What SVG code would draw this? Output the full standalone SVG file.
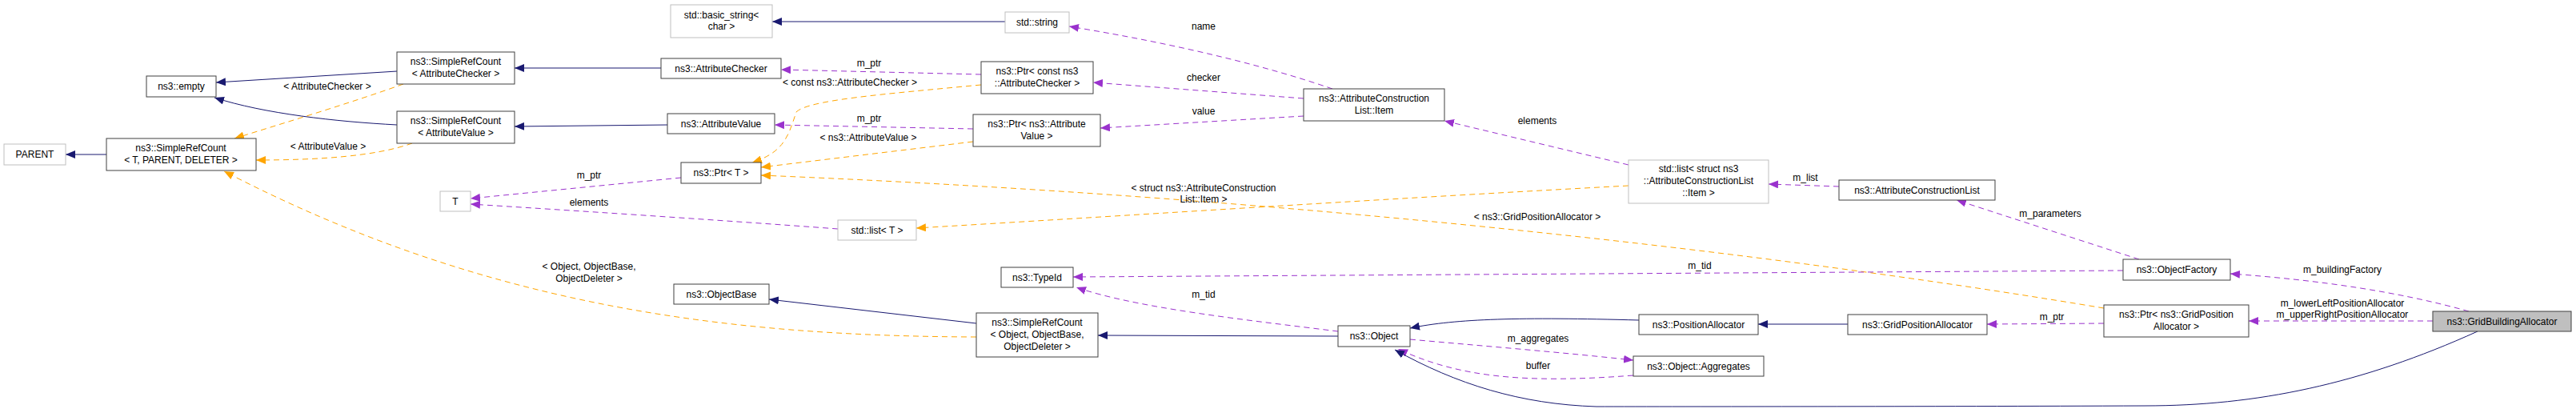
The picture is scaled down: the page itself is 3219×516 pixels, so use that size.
<svg xmlns="http://www.w3.org/2000/svg" width="3219" height="516" viewBox="0 0 3219 516">
<style>
text{font-family:"Liberation Sans",Arial,sans-serif;font-size:12px;fill:#000;text-anchor:middle}
.n rect{fill:#fff;stroke:#404040;stroke-width:1}
.g rect{fill:#fff;stroke:#bfbfbf;stroke-width:1}
.s{fill:none;stroke:#191970;stroke-width:1;marker-end:url(#an)}
.p{fill:none;stroke:#9a32cd;stroke-width:1;stroke-dasharray:7,5;marker-end:url(#ap)}
.o{fill:none;stroke:#ffa500;stroke-width:1;stroke-dasharray:7,5;marker-end:url(#ao)}
</style>
<defs>
<marker id="an" markerWidth="12" markerHeight="10" refX="12" refY="5" orient="auto" markerUnits="userSpaceOnUse"><path d="M0,0L12,5L0,10z" fill="#191970"/></marker>
<marker id="ap" markerWidth="12" markerHeight="10" refX="12" refY="5" orient="auto" markerUnits="userSpaceOnUse"><path d="M0,0L12,5L0,10z" fill="#9a32cd"/></marker>
<marker id="ao" markerWidth="12" markerHeight="10" refX="12" refY="5" orient="auto" markerUnits="userSpaceOnUse"><path d="M0,0L12,5L0,10z" fill="#ffa500"/></marker>
</defs>
<rect width="3219" height="516" fill="#fff"/>
<g id="connectors">
<path class="s" d="M133,193L82,193"/>
<path class="s" d="M496,89L270,103"/>
<path class="s" d="M496,156C420,152 330,142 268,122"/>
<path class="s" d="M826,85L643,85"/>
<path class="s" d="M834,156L643,158"/>
<path class="o" d="M504,105C440,128 360,152 293,173"/>
<path class="o" d="M515,179C470,195 400,200 320,200"/>
<path class="o" d="M1220,421C900,420 600,380 280,214"/>
<path class="s" d="M1256,27L965,27"/>
<path class="p" d="M1226,93L976,87"/>
<path class="o" d="M1226,106C1100,118 1010,125 995,140C985,170 980,190 940,203"/>
<path class="p" d="M1216,161L968,156"/>
<path class="o" d="M1216,177L951,209"/>
<path class="o" d="M2629,385C2300,330 1700,250 951,219"/>
<path class="o" d="M2035,232C1700,250 1400,270 1145,285"/>
<path class="p" d="M851,222L588,248"/>
<path class="p" d="M1047,286C900,275 700,262 588,255"/>
<path class="p" d="M1665,111C1560,75 1440,50 1336,33"/>
<path class="p" d="M1629,123L1366,103"/>
<path class="p" d="M1629,145L1375,160"/>
<path class="p" d="M2035,206L1805,151"/>
<path class="p" d="M2298,233L2210,230"/>
<path class="p" d="M2673,324L2445,250"/>
<path class="p" d="M2653,338L1341,346"/>
<path class="p" d="M1672,414C1560,400 1420,385 1345,359"/>
<path class="s" d="M1672,420L1372,419"/>
<path class="s" d="M1220,404L961,374"/>
<path class="s" d="M2048,400C1900,396 1820,398 1762,410"/>
<path class="s" d="M2309,405L2197,405"/>
<path class="p" d="M1762,424C1850,432 1950,440 2041,450"/>
<path class="p" d="M2041,469C1900,480 1820,470 1747,436"/>
<path class="s" d="M3096,414C2950,480 2820,507 2680,507C2400,508 2100,508 1995,508C1900,505 1820,480 1743,437"/>
<path class="p" d="M2629,404L2483,405"/>
<path class="p" d="M3085,389C3000,365 2900,350 2787,342"/>
<path class="p" d="M3040,401L2810,401"/>
</g>
<g font-size="12">
<text x="409" y="112">&lt; AttributeChecker &gt;</text>
<text x="410" y="187">&lt; AttributeValue &gt;</text>
<text x="736" y="337">&lt; Object, ObjectBase,</text>
<text x="736" y="352">ObjectDeleter &gt;</text>
<text x="1086" y="83">m_ptr</text>
<text x="1062" y="107">&lt; const ns3::AttributeChecker &gt;</text>
<text x="1086" y="152">m_ptr</text>
<text x="1085" y="176">&lt; ns3::AttributeValue &gt;</text>
<text x="1504" y="239">&lt; struct ns3::AttributeConstruction</text>
<text x="1504" y="253">List::Item &gt;</text>
<text x="1921" y="275">&lt; ns3::GridPositionAllocator &gt;</text>
<text x="736" y="223">m_ptr</text>
<text x="736" y="257">elements</text>
<text x="1504" y="37">name</text>
<text x="1504" y="101">checker</text>
<text x="1504" y="143">value</text>
<text x="1921" y="155">elements</text>
<text x="2256" y="226">m_list</text>
<text x="2562" y="271">m_parameters</text>
<text x="2124" y="336">m_tid</text>
<text x="1504" y="372">m_tid</text>
<text x="1922" y="427">m_aggregates</text>
<text x="1922" y="461">buffer</text>
<text x="2564" y="400">m_ptr</text>
<text x="2927" y="341">m_buildingFactory</text>
<text x="2927" y="383">m_lowerLeftPositionAllocator</text>
<text x="2927" y="397">m_upperRightPositionAllocator</text>
</g>
<g id="PARENT" class="g"><rect x="5" y="180" width="77" height="26"/><text x="43.5" y="197">PARENT</text></g>
<g id="SRC_TPD" class="n"><rect x="133" y="173" width="187" height="40"/><text x="226" y="189">ns3::SimpleRefCount</text><text x="226" y="204">&lt; T, PARENT, DELETER &gt;</text></g>
<g id="empty" class="n"><rect x="183" y="95" width="87" height="26"/><text x="226.5" y="112">ns3::empty</text></g>
<g id="SRC_AC" class="n"><rect x="496" y="65" width="147" height="40"/><text x="569.5" y="81">ns3::SimpleRefCount</text><text x="569.5" y="96">&lt; AttributeChecker &gt;</text></g>
<g id="SRC_AV" class="n"><rect x="496" y="139" width="147" height="40"/><text x="569.5" y="155">ns3::SimpleRefCount</text><text x="569.5" y="170">&lt; AttributeValue &gt;</text></g>
<g id="basic_string" class="g"><rect x="838" y="6" width="127" height="41"/><text x="901.5" y="23">std::basic_string&lt;</text><text x="901.5" y="37">char &gt;</text></g>
<g id="AttributeChecker" class="n"><rect x="826" y="73" width="150" height="25"/><text x="901" y="90">ns3::AttributeChecker</text></g>
<g id="AttributeValue" class="n"><rect x="834" y="142" width="134" height="25"/><text x="901" y="159">ns3::AttributeValue</text></g>
<g id="PtrT" class="n"><rect x="851" y="203" width="100" height="26"/><text x="901" y="220">ns3::Ptr&lt; T &gt;</text></g>
<g id="T" class="g"><rect x="550" y="239" width="38" height="25"/><text x="569" y="256">T</text></g>
<g id="ObjectBase" class="n"><rect x="842" y="355" width="119" height="25"/><text x="901.5" y="372">ns3::ObjectBase</text></g>
<g id="listT" class="g"><rect x="1047" y="275" width="98" height="25"/><text x="1096" y="292">std::list&lt; T &gt;</text></g>
<g id="string" class="g"><rect x="1256" y="15" width="80" height="26"/><text x="1296" y="32">std::string</text></g>
<g id="PtrConstAC" class="n"><rect x="1226" y="77" width="140" height="40"/><text x="1296" y="93">ns3::Ptr&lt; const ns3</text><text x="1296" y="108">::AttributeChecker &gt;</text></g>
<g id="PtrAV" class="n"><rect x="1216" y="143" width="159" height="40"/><text x="1295.5" y="159">ns3::Ptr&lt; ns3::Attribute</text><text x="1295.5" y="174">Value &gt;</text></g>
<g id="TypeId" class="n"><rect x="1251" y="334" width="90" height="25"/><text x="1296" y="351">ns3::TypeId</text></g>
<g id="SRC_Object" class="n"><rect x="1220" y="391" width="152" height="55"/><text x="1296" y="407">ns3::SimpleRefCount</text><text x="1296" y="422">&lt; Object, ObjectBase,</text><text x="1296" y="437">ObjectDeleter &gt;</text></g>
<g id="Item" class="n"><rect x="1629" y="111" width="176" height="40"/><text x="1717" y="127">ns3::AttributeConstruction</text><text x="1717" y="142">List::Item</text></g>
<g id="listStruct" class="g"><rect x="2035" y="200" width="175" height="54"/><text x="2122.5" y="215">std::list&lt; struct ns3</text><text x="2122.5" y="230">::AttributeConstructionList</text><text x="2122.5" y="245">::Item &gt;</text></g>
<g id="Object" class="n"><rect x="1672" y="407" width="90" height="26"/><text x="1717" y="424">ns3::Object</text></g>
<g id="PositionAllocator" class="n"><rect x="2048" y="393" width="149" height="25"/><text x="2122.5" y="410">ns3::PositionAllocator</text></g>
<g id="Aggregates" class="n"><rect x="2041" y="445" width="163" height="25"/><text x="2122.5" y="462">ns3::Object::Aggregates</text></g>
<g id="ACL" class="n"><rect x="2298" y="225" width="195" height="25"/><text x="2395.5" y="242">ns3::AttributeConstructionList</text></g>
<g id="GridPositionAllocator" class="n"><rect x="2309" y="393" width="174" height="25"/><text x="2396" y="410">ns3::GridPositionAllocator</text></g>
<g id="ObjectFactory" class="n"><rect x="2653" y="324" width="134" height="26"/><text x="2720" y="341">ns3::ObjectFactory</text></g>
<g id="PtrGrid" class="n"><rect x="2629" y="381" width="181" height="40"/><text x="2719.5" y="397">ns3::Ptr&lt; ns3::GridPosition</text><text x="2719.5" y="412">Allocator &gt;</text></g>
<g id="GridBuildingAllocator" class="n"><rect x="3040" y="389" width="173" height="25" style="fill:#bfbfbf"/><text x="3126.5" y="406">ns3::GridBuildingAllocator</text></g>
</svg>
